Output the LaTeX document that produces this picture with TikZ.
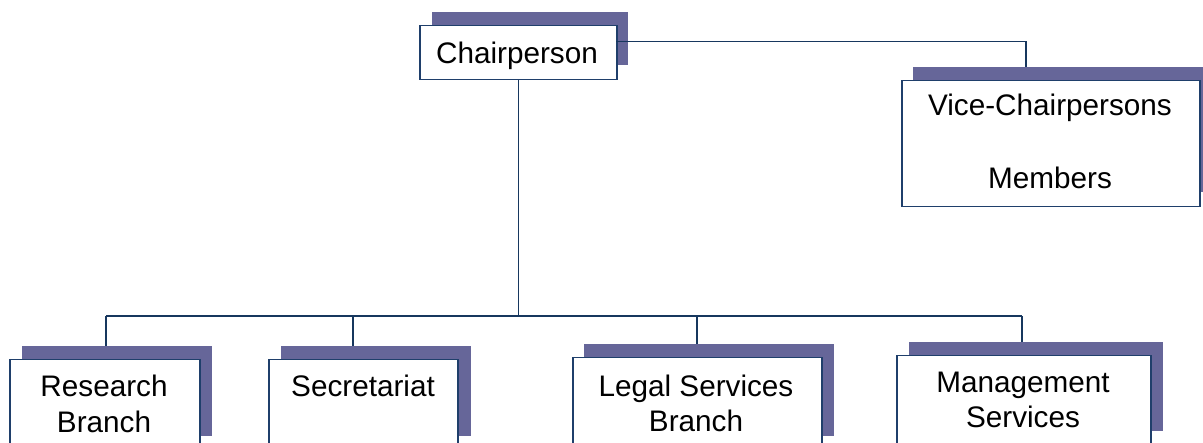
\documentclass[tikz,border=0pt]{standalone}
\usepackage{fontspec}
\setmainfont{Liberation Sans}
\definecolor{shadowc}{HTML}{666699}
\definecolor{edgec}{HTML}{1F3F6B}
\definecolor{linec}{HTML}{17375E}
\begin{document}
\begin{tikzpicture}[x=1pt,y=-1pt,
  shadowbox/.style={fill=shadowc,draw=none},
  wbox/.style={draw=edgec,line width=1.5pt,fill=white,inner sep=0pt,anchor=north west},
  conn/.style={draw=linec,line width=1.5pt},
  lbl/.style={anchor=base,inner sep=0pt,font=\fontsize{29.7}{36}\selectfont}]
\useasboundingbox (0,0) rectangle (1203,443);
\clip (0,0) rectangle (1203,443);
% shadows
\path[shadowbox] (432,12) rectangle (628,65);
\path[shadowbox] (913,67) rectangle (1203,192);
\path[shadowbox] (22,346) rectangle (212,436);
\path[shadowbox] (281,346) rectangle (471,436);
\path[shadowbox] (584,344) rectangle (834,436);
\path[shadowbox] (909,342) rectangle (1163,431);
% boxes
\node[wbox,minimum width=197pt,minimum height=54pt] (chair) at (419,25) {};
\node[wbox,minimum width=298pt,minimum height=126pt] (vice) at (901,80) {};
\node[wbox,minimum width=190pt,minimum height=110pt] (research) at (9,359) {};
\node[wbox,minimum width=189pt,minimum height=110pt] (secr) at (268,359) {};
\node[wbox,minimum width=249pt,minimum height=110pt] (legal) at (572,357) {};
\node[wbox,minimum width=254pt,minimum height=110pt] (mgmt) at (896,355) {};
% labels
\node[lbl] (tchair) at (517,64) {Chairperson};
\node[lbl] (tvice1) at (1050,116) {Vice-Chairpersons};
\node[lbl] (tvice2) at (1050,189) {Members};
\node[lbl] (tres1) at (104,397) {Research};
\node[lbl] (tres2) at (104,433) {Branch};
\node[lbl] (tsec) at (363,397) {Secretariat};
\node[lbl] (tleg1) at (696,397) {Legal Services};
\node[lbl] (tleg2) at (696,432) {Branch};
\node[lbl] (tman1) at (1023,393) {Management};
\node[lbl] (tman2) at (1023,428) {Services};
% connectors
\coordinate (chairR) at (616,41.5);
\coordinate (viceT) at (1026,67);
\coordinate (busy) at (0,316);
\coordinate (resT) at (106,346);
\coordinate (secT) at (353,346);
\coordinate (legT) at (697,344);
\coordinate (manT) at (1022,342);
\draw[conn] (chairR) -| (viceT);
\draw[conn] (chair.south) -- (chair.south |- busy);
\draw[conn] (resT |- busy) -- (manT |- busy);
\draw[conn] (resT |- busy) -- (resT);
\draw[conn] (secT |- busy) -- (secT);
\draw[conn] (legT |- busy) -- (legT);
\draw[conn] (manT |- busy) -- (manT);
\end{tikzpicture}
\end{document}
